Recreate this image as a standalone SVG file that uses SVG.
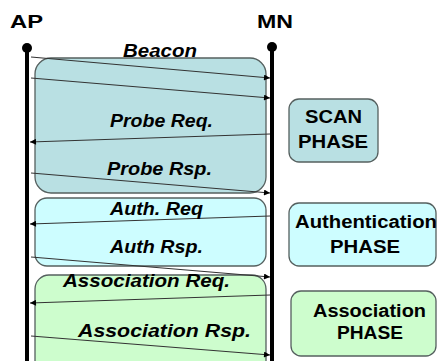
<svg xmlns="http://www.w3.org/2000/svg" width="438" height="361" viewBox="0 0 438 361">
  <style>
    .head { font-family: "Liberation Sans", Arial, sans-serif; font-weight: bold; font-size: 19px; fill: #000; }
    .msg { font-family: "Liberation Sans", Arial, sans-serif; font-weight: bold; font-style: italic; font-size: 18px; fill: #000; }
    .phase { font-family: "Liberation Sans", Arial, sans-serif; font-weight: bold; font-size: 18px; fill: #000; text-anchor: middle; }
    .life { stroke: #000; stroke-width: 4; }
    .box { stroke: #55605f; stroke-width: 1.3; }
    .scan { fill: #b9e0e3; }
    .auth { fill: #cdfdff; }
    .assoc { fill: #cdfdcd; }
    .arrow { stroke: #333; stroke-width: 1.2; fill: none; marker-end: url(#tip); }
  </style>
  <defs>
    <marker id="tip" viewBox="0 0 10 10" refX="10" refY="5" markerWidth="7" markerHeight="6" markerUnits="userSpaceOnUse" orient="auto">
      <path d="M0,0 L10,5 L0,10 Z" fill="#000"/>
    </marker>
  </defs>

  <!-- lifelines -->
  <g id="ap">
    <text class="head" x="10" y="28" textLength="33" lengthAdjust="spacingAndGlyphs">AP</text>
    <line class="life" x1="27" y1="48" x2="27" y2="361"/>
    <circle cx="27" cy="48" r="5" fill="#000"/>
  </g>
  <g id="mn">
    <text class="head" x="257" y="28" textLength="36" lengthAdjust="spacingAndGlyphs">MN</text>
    <line class="life" x1="272" y1="47" x2="272" y2="361"/>
    <circle cx="272" cy="47" r="5" fill="#000"/>
  </g>

  <!-- phase backgrounds behind the message exchange -->
  <g id="scan-group">
    <rect class="box scan" x="35" y="58" width="231" height="135" rx="16"/>
  </g>
  <g id="auth-group">
    <rect class="box auth" x="35" y="198" width="231" height="68" rx="12"/>
  </g>
  <g id="assoc-group">
    <rect class="box assoc" x="35" y="275" width="231" height="100" rx="14"/>
  </g>

  <!-- messages -->
  <g id="connectors">
    <line class="arrow" x1="31" y1="57" x2="270" y2="78"/>
    <line class="arrow" x1="31" y1="78" x2="270" y2="98"/>
    <line class="arrow" x1="270" y1="134" x2="30" y2="142"/>
    <line class="arrow" x1="31" y1="173" x2="270" y2="193"/>
    <line class="arrow" x1="270" y1="216" x2="30" y2="224"/>
    <line class="arrow" x1="31" y1="257" x2="270" y2="277"/>
    <line class="arrow" x1="270" y1="295" x2="30" y2="303"/>
    <line class="arrow" x1="31" y1="336" x2="270" y2="355"/>
  </g>

  <g id="labels">
    <text class="msg" x="123" y="57" textLength="74" lengthAdjust="spacingAndGlyphs">Beacon</text>
    <text class="msg" x="110" y="127" textLength="103" lengthAdjust="spacingAndGlyphs">Probe Req.</text>
    <text class="msg" x="107" y="175" textLength="105" lengthAdjust="spacingAndGlyphs">Probe Rsp.</text>
    <text class="msg" x="110" y="215" textLength="93" lengthAdjust="spacingAndGlyphs">Auth. Req</text>
    <text class="msg" x="110" y="253" textLength="93" lengthAdjust="spacingAndGlyphs">Auth Rsp.</text>
    <text class="msg" x="63" y="287" textLength="167" lengthAdjust="spacingAndGlyphs">Association Req.</text>
    <text class="msg" x="78" y="337" textLength="173" lengthAdjust="spacingAndGlyphs">Association Rsp.</text>
  </g>

  <!-- phase legend -->
  <g id="scan-phase">
    <rect class="box scan" x="289" y="99" width="89" height="63" rx="10"/>
    <text class="phase" x="333.5" y="123" textLength="57" lengthAdjust="spacingAndGlyphs">SCAN</text>
    <text class="phase" x="333" y="148" textLength="70" lengthAdjust="spacingAndGlyphs">PHASE</text>
  </g>
  <g id="auth-phase">
    <rect class="box auth" x="289" y="203" width="147" height="63" rx="10"/>
    <text class="phase" x="366" y="228" textLength="142" lengthAdjust="spacingAndGlyphs">Authentication</text>
    <text class="phase" x="365" y="253" textLength="70" lengthAdjust="spacingAndGlyphs">PHASE</text>
  </g>
  <g id="assoc-phase">
    <rect class="box assoc" x="291" y="291" width="145" height="65" rx="10"/>
    <text class="phase" x="369.5" y="317" textLength="113" lengthAdjust="spacingAndGlyphs">Association</text>
    <text class="phase" x="370" y="339" textLength="66" lengthAdjust="spacingAndGlyphs">PHASE</text>
  </g>
</svg>
